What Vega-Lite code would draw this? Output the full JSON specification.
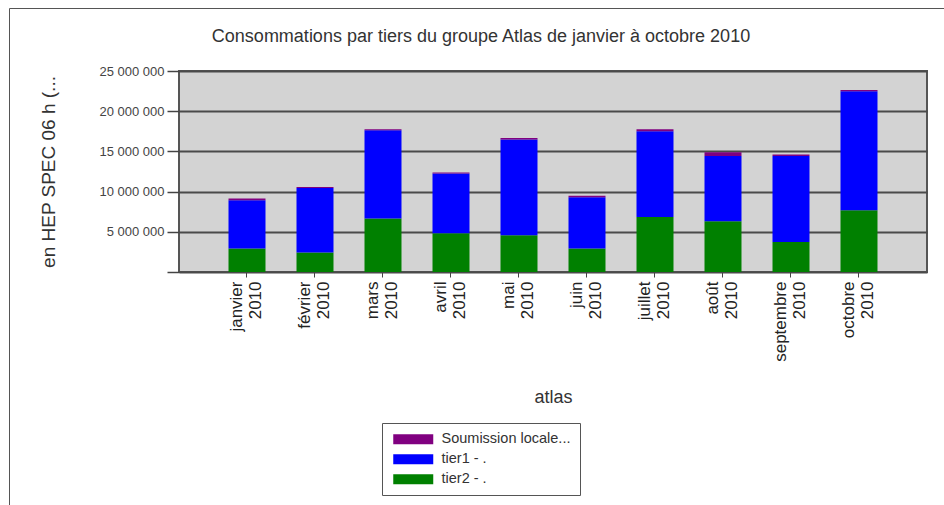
{
  "$schema": "https://vega.github.io/schema/vega-lite/v6.json",
  "width": 748,
  "height": 201,
  "autosize": {"type": "none"},
  "padding": {"left": 179, "top": 71, "right": 17, "bottom": 233},
  "background": "white",
  "title": {
    "text": "Consommations par tiers du groupe Atlas de janvier à octobre 2010",
    "anchor": "middle",
    "dx": -72,
    "dy": 38,
    "offset": 0,
    "font": "Liberation Sans",
    "fontSize": 18,
    "fontWeight": "normal",
    "color": "#333333"
  },
  "data": {
    "values": [
      {"mois": "janvier 2010", "tiers": "tier2 - .", "valeur": 2910000},
      {"mois": "janvier 2010", "tiers": "tier1 - .", "valeur": 6010000},
      {"mois": "janvier 2010", "tiers": "Soumission locale...", "valeur": 220000},
      {"mois": "février 2010", "tiers": "tier2 - .", "valeur": 2410000},
      {"mois": "février 2010", "tiers": "tier1 - .", "valeur": 8040000},
      {"mois": "février 2010", "tiers": "Soumission locale...", "valeur": 120000},
      {"mois": "mars 2010", "tiers": "tier2 - .", "valeur": 6640000},
      {"mois": "mars 2010", "tiers": "tier1 - .", "valeur": 10980000},
      {"mois": "mars 2010", "tiers": "Soumission locale...", "valeur": 150000},
      {"mois": "avril 2010", "tiers": "tier2 - .", "valeur": 4810000},
      {"mois": "avril 2010", "tiers": "tier1 - .", "valeur": 7430000},
      {"mois": "avril 2010", "tiers": "Soumission locale...", "valeur": 150000},
      {"mois": "mai 2010", "tiers": "tier2 - .", "valeur": 4560000},
      {"mois": "mai 2010", "tiers": "tier1 - .", "valeur": 11910000},
      {"mois": "mai 2010", "tiers": "Soumission locale...", "valeur": 200000},
      {"mois": "juin 2010", "tiers": "tier2 - .", "valeur": 2910000},
      {"mois": "juin 2010", "tiers": "tier1 - .", "valeur": 6380000},
      {"mois": "juin 2010", "tiers": "Soumission locale...", "valeur": 200000},
      {"mois": "juillet 2010", "tiers": "tier2 - .", "valeur": 6840000},
      {"mois": "juillet 2010", "tiers": "tier1 - .", "valeur": 10660000},
      {"mois": "juillet 2010", "tiers": "Soumission locale...", "valeur": 250000},
      {"mois": "août 2010", "tiers": "tier2 - .", "valeur": 6300000},
      {"mois": "août 2010", "tiers": "tier1 - .", "valeur": 8130000},
      {"mois": "août 2010", "tiers": "Soumission locale...", "valeur": 450000},
      {"mois": "septembre 2010", "tiers": "tier2 - .", "valeur": 3730000},
      {"mois": "septembre 2010", "tiers": "tier1 - .", "valeur": 10700000},
      {"mois": "septembre 2010", "tiers": "Soumission locale...", "valeur": 170000},
      {"mois": "octobre 2010", "tiers": "tier2 - .", "valeur": 7670000},
      {"mois": "octobre 2010", "tiers": "tier1 - .", "valeur": 14800000},
      {"mois": "octobre 2010", "tiers": "Soumission locale...", "valeur": 170000}
    ]
  },
  "mark": {"type": "bar", "strokeWidth": 0},
  "encoding": {
    "x": {
      "field": "mois",
      "type": "nominal",
      "sort": null,
      "scale": {"paddingInner": 0.456, "paddingOuter": 0.728},
      "axis": {
        "title": "atlas",
        "labelAngle": -90,
        "labelExpr": "split(datum.label, ' ')",
        "labelFontSize": 17,
        "labelLineHeight": 19,
        "labelOffset": -10,
        "labelColor": "#222222",
        "labelPadding": 4,
        "tickSize": 5,
        "tickColor": "#444444",
        "domain": false,
        "titleFontSize": 18,
        "titleFontWeight": "normal",
        "titleColor": "#333333",
        "titlePadding": 27
      }
    },
    "y": {
      "field": "valeur",
      "type": "quantitative",
      "aggregate": "sum",
      "stack": "zero",
      "scale": {"domain": [0, 25000000], "nice": false},
      "axis": {
        "title": "en HEP SPEC 06 h (...",
        "values": [0, 5000000, 10000000, 15000000, 20000000, 25000000],
        "labelExpr": "datum.value == 0 ? '' : replace(format(datum.value, ','), regexp(',', 'g'), ' ')",
        "labelFontSize": 13,
        "labelColor": "#444444",
        "labelPadding": 3,
        "tickSize": 12,
        "tickColor": "#444444",
        "tickWidth": 1.5,
        "domain": false,
        "grid": true,
        "gridColor": "#4a4a4a",
        "gridWidth": 2,
        "titleFontSize": 19,
        "titleFontWeight": "normal",
        "titleColor": "#333333",
        "titlePadding": 40
      }
    },
    "color": {
      "field": "tiers",
      "type": "nominal",
      "scale": {
        "domain": ["Soumission locale...", "tier1 - .", "tier2 - ."],
        "range": ["#800080", "#0000ff", "#008000"]
      },
      "legend": {
        "title": null,
        "orient": "none",
        "legendX": 203,
        "legendY": 352,
        "direction": "vertical",
        "symbolType": "M-1,-1H7V1H-1Z",
        "symbolSize": 100,
        "symbolStrokeWidth": 0,
        "labelFontSize": 14.5,
        "labelColor": "#333333",
        "labelOffset": 36,
        "rowPadding": 5,
        "strokeColor": "#555555",
        "padding": 9,
        "fillColor": "white"
      }
    },
    "strokeDash": {
      "field": "mois",
      "type": "nominal",
      "sort": null,
      "legend": {
        "title": null,
        "orient": "none",
        "legendX": -170,
        "legendY": -63,
        "padding": 1200,
        "symbolLimit": 1,
        "symbolOpacity": 0,
        "labelExpr": "''",
        "strokeColor": "#555555"
      }
    },
    "order": {"field": "tiers", "sort": "descending"}
  },
  "config": {
    "font": "Liberation Sans",
    "view": {"fill": "#d3d3d3", "stroke": "#555555", "strokeWidth": 2},
    "axis": {"labelFont": "Liberation Sans", "titleFont": "Liberation Sans"},
    "legend": {"labelFont": "Liberation Sans"}
  }
}
